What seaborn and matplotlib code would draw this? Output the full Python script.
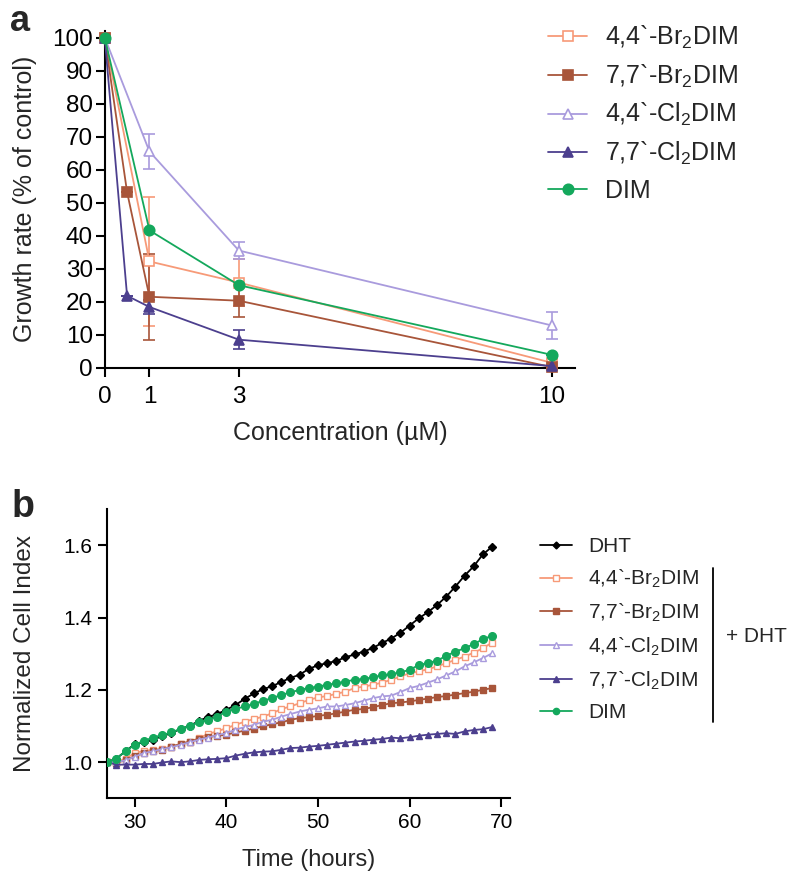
import matplotlib
matplotlib.use("Agg")
import matplotlib.pyplot as plt
import seaborn as sns
from matplotlib.lines import Line2D

sns.set_style("ticks")
plt.rcParams['font.family'] = ['Liberation Sans', 'DejaVu Sans']
plt.rcParams['mathtext.default'] = 'regular'

# ---- panel a: growth rate vs concentration ----
conc_br44 = [0, 1, 3, 10]
growth_br44 = [100, 32.2, 25.8, 1.5]
err_br44 = [0, 19.5, 7.0, 1.0]

conc_br77 = [0, 0.5, 1, 3, 10]
growth_br77 = [100, 53.2, 21.5, 20.3, 0.2]
err_br77 = [0, 0, 13.0, 5.0, 0.5]

conc_cl44 = [0, 1, 3, 10]
growth_cl44 = [100, 65.5, 35.5, 12.8]
err_cl44 = [0, 5.3, 2.5, 4.0]

conc_cl77 = [0, 0.5, 1, 3, 10]
growth_cl77 = [100, 21.8, 18.4, 8.5, 0.5]
err_cl77 = [0, 0, 2.0, 2.8, 0.5]

conc_dim = [0, 1, 3, 10]
growth_dim = [100, 41.6, 25.0, 3.9]
err_dim = [0, 0, 0, 0]

# ---- panel b: normalized cell index vs time ----
hours = list(range(27, 70))
ci_dht = [1.000, 1.010, 1.030, 1.050, 1.055, 1.062, 1.072, 1.080, 1.092, 1.100,
          1.114, 1.125, 1.133, 1.145, 1.158, 1.175, 1.190, 1.202, 1.210, 1.222,
          1.233, 1.242, 1.258, 1.268, 1.274, 1.280, 1.290, 1.298, 1.306, 1.316,
          1.330, 1.342, 1.358, 1.378, 1.398, 1.415, 1.435, 1.458, 1.486, 1.516,
          1.542, 1.575, 1.596]
ci_br44 = [1.000, 1.000, 1.010, 1.025, 1.031, 1.034, 1.037, 1.043, 1.050, 1.057,
           1.066, 1.078, 1.085, 1.094, 1.103, 1.112, 1.119, 1.126, 1.135, 1.147,
           1.154, 1.163, 1.172, 1.179, 1.183, 1.189, 1.195, 1.205, 1.209, 1.214,
           1.220, 1.228, 1.237, 1.246, 1.251, 1.257, 1.265, 1.274, 1.283, 1.292,
           1.303, 1.315, 1.331]
ci_br77 = [1.000, 0.997, 1.006, 1.016, 1.025, 1.030, 1.034, 1.043, 1.050, 1.057,
           1.064, 1.069, 1.073, 1.076, 1.082, 1.087, 1.093, 1.099, 1.105, 1.110,
           1.117, 1.122, 1.124, 1.128, 1.131, 1.135, 1.140, 1.145, 1.147, 1.152,
           1.158, 1.163, 1.165, 1.168, 1.172, 1.176, 1.180, 1.183, 1.187, 1.191,
           1.195, 1.200, 1.205]
ci_cl44 = [1.000, 1.000, 1.005, 1.015, 1.025, 1.030, 1.036, 1.041, 1.048, 1.055,
           1.062, 1.068, 1.075, 1.080, 1.090, 1.097, 1.103, 1.112, 1.117, 1.126,
           1.133, 1.140, 1.145, 1.149, 1.154, 1.154, 1.158, 1.163, 1.170, 1.177,
           1.182, 1.184, 1.194, 1.205, 1.211, 1.220, 1.229, 1.240, 1.251, 1.265,
           1.276, 1.288, 1.301]
ci_cl77 = [1.000, 0.993, 0.993, 0.993, 0.995, 0.995, 0.999, 1.002, 1.000, 1.002,
           1.006, 1.008, 1.009, 1.011, 1.018, 1.023, 1.027, 1.029, 1.030, 1.034,
           1.039, 1.040, 1.043, 1.045, 1.048, 1.051, 1.054, 1.057, 1.059, 1.062,
           1.064, 1.068, 1.066, 1.069, 1.073, 1.076, 1.078, 1.080, 1.078, 1.085,
           1.089, 1.091, 1.097]
ci_dim = [1.000, 1.010, 1.030, 1.048, 1.059, 1.068, 1.075, 1.082, 1.092, 1.100,
          1.110, 1.117, 1.126, 1.140, 1.147, 1.154, 1.161, 1.170, 1.177, 1.186,
          1.193, 1.200, 1.205, 1.209, 1.214, 1.218, 1.223, 1.228, 1.230, 1.235,
          1.240, 1.243, 1.249, 1.255, 1.269, 1.274, 1.281, 1.294, 1.306, 1.315,
          1.327, 1.340, 1.350]

lab_br44 = "4,4`-Br$_2$DIM"
lab_br77 = "7,7`-Br$_2$DIM"
lab_cl44 = "4,4`-Cl$_2$DIM"
lab_cl77 = "7,7`-Cl$_2$DIM"

c_br44 = "#F79A78"
c_br77 = "#A8553A"
c_cl44 = "#A99BDD"
c_cl77 = "#4C3F8E"
c_dim = "#14A85C"
c_dht = "#000000"

fig = plt.figure(figsize=(8, 8.84), dpi=100)
ax_a = fig.add_axes([0.1309, 0.584, 0.588, 0.381])
ax_b = fig.add_axes([0.134, 0.097, 0.504, 0.327])

# panel a
series_a = [
    (conc_br44, growth_br44, err_br44, lab_br44, c_br44, 's', True),
    (conc_br77, growth_br77, err_br77, lab_br77, c_br77, 's', False),
    (conc_cl44, growth_cl44, err_cl44, lab_cl44, c_cl44, '^', True),
    (conc_cl77, growth_cl77, err_cl77, lab_cl77, c_cl77, '^', False),
    (conc_dim, growth_dim, err_dim, "DIM", c_dim, 'o', False),
]
handles_a = []
for x, y, e, lab, col, mk, hollow in series_a:
    ax_a.errorbar(x, y, yerr=e, fmt='none', ecolor=col, elinewidth=1.2,
                  capsize=4.5, capthick=1.2, clip_on=False, zorder=2)
    fc = 'white' if hollow else col
    sns.lineplot(x=x, y=y, ax=ax_a, color=col, linewidth=1.3, marker=mk,
                 markersize=7.5, markerfacecolor=fc, markeredgecolor=col,
                 markeredgewidth=1.2, clip_on=False, zorder=3)
    handles_a.append(Line2D([], [], color=col, linewidth=1.3, marker=mk,
                            markersize=7.5, markerfacecolor=fc,
                            markeredgecolor=col, markeredgewidth=1.2))

ax_a.set_xlim(0, 10.52)
ax_a.set_ylim(0, 102)
ax_a.set_xticks([0, 1, 3, 10])
ax_a.set_yticks(range(0, 101, 10))
ax_a.set_xlabel("Concentration (\u00b5M)", fontsize=18, labelpad=9)
ax_a.set_ylabel("Growth rate (% of control)", fontsize=18, labelpad=11)
fig.legend(handles_a, [s[3] for s in series_a], loc='upper left',
           bbox_to_anchor=(0.685, 0.973), frameon=False, fontsize=18,
           handlelength=1.56, handletextpad=0.72, labelspacing=0.46,
           borderpad=0, borderaxespad=0)

# panel b
series_b = [
    (ci_dht, "DHT", c_dht, 'D', False, 4.5),
    (ci_br44, lab_br44, c_br44, 's', True, 5),
    (ci_br77, lab_br77, c_br77, 's', False, 5),
    (ci_cl44, lab_cl44, c_cl44, '^', True, 5),
    (ci_cl77, lab_cl77, c_cl77, '^', False, 5),
    (ci_dim, "DIM", c_dim, 'o', False, 5.5),
]
handles_b = []
order = [4, 2, 3, 1, 5, 0]
for i in order:
    vals, lab, col, mk, hollow, ms = series_b[i]
    fc = 'white' if hollow else col
    sns.lineplot(x=hours, y=vals, ax=ax_b, color=col, linewidth=1.3,
                 marker=mk, markersize=ms, markerfacecolor=fc,
                 markeredgecolor=col, markeredgewidth=1.0, zorder=3 + i)
for vals, lab, col, mk, hollow, ms in series_b:
    fc = 'white' if hollow else col
    handles_b.append(Line2D([], [], color=col, linewidth=1.3, marker=mk,
                            markersize=ms - 1, markerfacecolor=fc,
                            markeredgecolor=col, markeredgewidth=1.0))

ax_b.set_xlim(27, 71)
ax_b.set_ylim(0.9, 1.7)
ax_b.set_xticks([30, 40, 50, 60, 70])
ax_b.set_yticks([1.0, 1.2, 1.4, 1.6])
ax_b.set_yticklabels(["1.0", "1.2", "1.4", "1.6"])
ax_b.set_xlabel("Time (hours)", fontsize=17, labelpad=12)
ax_b.set_ylabel("Normalized Cell Index", fontsize=17.5, labelpad=20)
fig.legend(handles_b, [s[1] for s in series_b], loc='upper left',
           bbox_to_anchor=(0.675, 0.392), frameon=False, fontsize=15,
           handlelength=1.54, handletextpad=0.77, labelspacing=0.55,
           borderpad=0, borderaxespad=0)

fig.add_artist(Line2D([0.891, 0.891], [1 - 568 / 884, 1 - 722 / 884],
                      color='black', linewidth=1.3, transform=fig.transFigure))
fig.text(0.908, 1 - 637 / 884, "+ DHT", fontsize=15, va='center', ha='left')

for ax in (ax_a, ax_b):
    sns.despine(ax=ax)
    for sp in ax.spines.values():
        sp.set_linewidth(1.5)
        sp.set_color('black')
    ax.tick_params(axis='both', which='major', length=6.5, width=1.5,
                   colors='black', pad=2)
ax_a.tick_params(labelsize=17.5)
ax_a.tick_params(axis='x', pad=7)
ax_b.tick_params(labelsize=15, pad=4)

fig.text(0.012, 1 - 31 / 884, "a", fontsize=26, fontweight='bold', va='baseline')
fig.text(0.014, 1 - 517 / 884, "b", fontsize=27, fontweight='bold', va='baseline')

fig.savefig("out.png", dpi=100)
